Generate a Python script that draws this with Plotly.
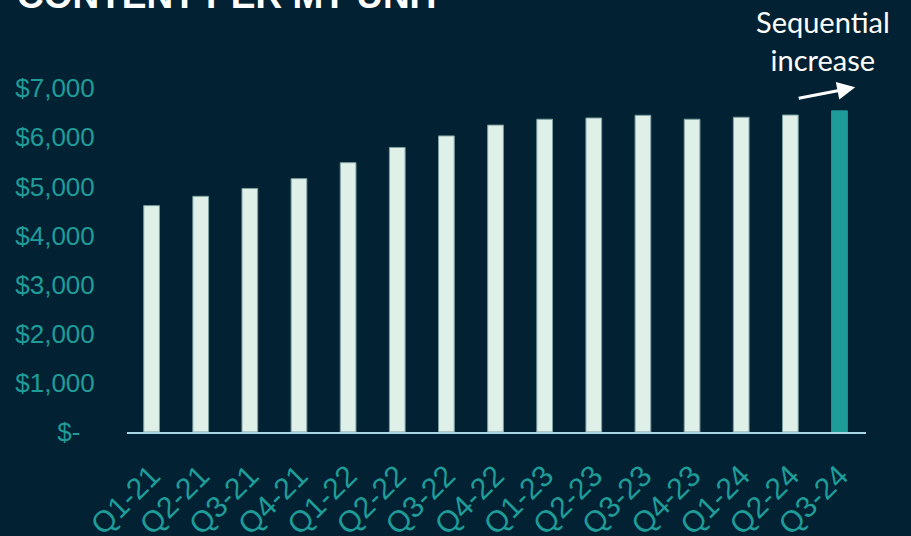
import plotly.graph_objects as go

quarters = ["Q1-21", "Q2-21", "Q3-21", "Q4-21", "Q1-22", "Q2-22", "Q3-22", "Q4-22",
            "Q1-23", "Q2-23", "Q3-23", "Q4-23", "Q1-24", "Q2-24", "Q3-24"]
content_per_unit = [4610, 4800, 4960, 5160, 5485, 5795, 6030, 6250,
                    6370, 6395, 6450, 6370, 6410, 6455, 6540]
tick_vals = [0, 1000, 2000, 3000, 4000, 5000, 6000, 7000]
tick_text = ["$-\u00a0\u00a0", "$1,000", "$2,000", "$3,000", "$4,000", "$5,000", "$6,000", "$7,000"]

BG = "#022233"
LIGHT = "#dff0e8"
TEAL = "#1f9c98"

colors = [LIGHT] * (len(quarters) - 1) + [TEAL]
line_colors = ["#7f9fa0"] * (len(quarters) - 1) + [TEAL]

fig = go.Figure(go.Bar(
    x=quarters, y=content_per_unit,
    marker=dict(color=colors, line=dict(color=line_colors, width=1)),
    width=0.32,
))

fig.update_layout(
    width=911, height=536,
    margin=dict(l=127, r=45, t=60, b=103.5),
    paper_bgcolor=BG, plot_bgcolor=BG,
    showlegend=False,
    font=dict(family="Arial, Liberation Sans", color=TEAL),
    xaxis=dict(
        showgrid=False, showline=True, linecolor="#a9d6e5", linewidth=2,
        tickangle=-45, tickfont=dict(size=30, color=TEAL),
        ticks="outside", ticklen=12, tickcolor=BG, automargin=False,
    ),
    yaxis=dict(
        range=[0, 7576], showgrid=False, zeroline=False,
        tickvals=tick_vals, ticktext=tick_text,
        tickfont=dict(size=26, color=TEAL),
        ticks="outside", ticklen=26, tickcolor=BG, automargin=False,
    ),
    annotations=[
        dict(text="<b>CONTENT PER MT UNIT</b>", xref="paper", yref="paper",
             x=(15 - 127) / 739, y=(432.5 - 18) / 372.5, xanchor="left", yanchor="bottom",
             showarrow=False, font=dict(size=37, color="white", family="Arial, Liberation Sans")),
        dict(text="(1)", xref="paper", yref="paper",
             x=(462 - 127) / 739, y=(432.5 + 1.5) / 372.5, xanchor="left", yanchor="bottom",
             showarrow=False, font=dict(size=18, color="white", family="Arial, Liberation Sans")),
        dict(text="Sequential<br>increase", xref="paper", yref="paper",
             x=(823 - 127) / 739, y=(432.5 - 40) / 372.5, xanchor="center", yanchor="middle",
             showarrow=False, font=dict(size=29, color="white", family="Lato")),
        dict(text="", x=14.32, y=7020, xref="x", yref="y",
             ax=13.14, ay=6789, axref="x", ayref="y",
             showarrow=True, arrowhead=2, arrowsize=1.2, arrowwidth=3, arrowcolor="white"),
    ],
)

fig.write_html("out.html")
